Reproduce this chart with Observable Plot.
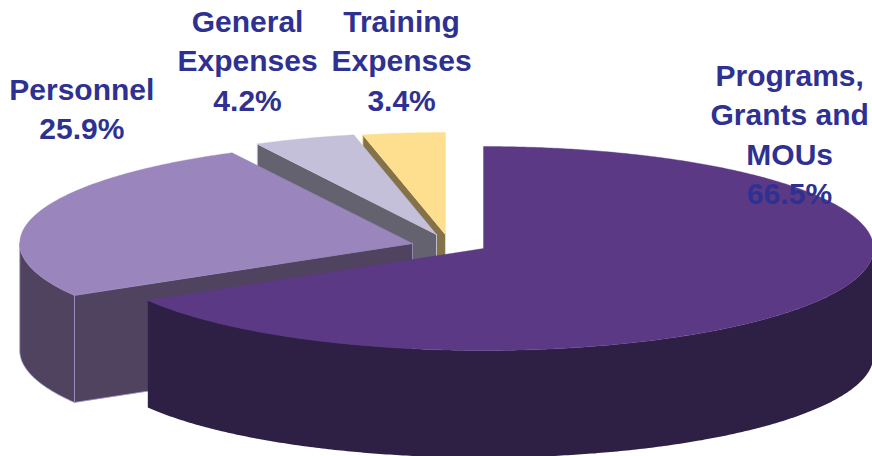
<!DOCTYPE html>
<html>
<head>
<meta charset="utf-8">
<script src="https://cdn.jsdelivr.net/npm/d3@7"></script>
<script src="https://cdn.jsdelivr.net/npm/@observablehq/plot@0.6"></script>
<style>
html,body{margin:0;padding:0;background:#fff;overflow:hidden}
svg{display:block}
</style>
</head>
<body>
<div id="chart"></div>
<script>
// Data, in the pie's clockwise order starting from 12 o'clock
const categories = ["Programs,\nGrants and\nMOUs", "Personnel", "General\nExpenses", "Training\nExpenses"];
const shares = [66.5, 25.9, 4.2, 3.4];

// Look of each slice
const topColors  = ["#5b3985", "#9a85bd", "#c5c0da", "#fedf8f"];
const sideColors = ["#2e1f45", "#4f4360", "#64626f", "#84734a"];
const edgeColors = ["none", "#a593c8", "#d5d1e6", "#fedf8f"];

// Explosion of each slice, in pie-radius units
const explodeX = [0, -0.182, -0.1205, -0.0975];
const explodeY = [0, 0.05, 0.137, 0.137];
const radius   = [1, 1.007, 1, 1];
const depth = 1.05;

// Label anchors, in pie-radius units
const labelX = [0.785, -1.03, -0.605, -0.21];
const labelY = [1.14, 1.39, 1.86, 1.86];

const textColor = "#2e3192";
const rad = d => d * Math.PI / 180;
const total = d3.sum(shares);
const stops = d3.cumsum(shares).map(v => v / total * 360);

const slices = shares.map((v, i) => ({
  i,
  t0: i ? stops[i - 1] : 0,
  t1: stops[i],
  ox: explodeX[i], oy: explodeY[i], r: radius[i]
}));

const rim = (s, t) => ({x: s.ox + s.r * Math.sin(rad(t)), y: s.oy + Math.cos(rad(t))});
const sweep = (a, b) => {
  const n = Math.max(2, Math.ceil((b - a) / 0.5));
  return d3.range(n + 1).map(k => a + (b - a) * k / n);
};
const drop = p => ({x: p.x, y: p.y - depth});

function cutFace(s) {
  const tip = {x: s.ox, y: s.oy}, out = rim(s, s.t0);
  return [tip, out, drop(out), drop(tip), tip];
}
function wallFace(s) {
  const a = Math.max(s.t0, 90), b = Math.min(s.t1, 270);
  if (b <= a) return null;
  const upper = sweep(a, b).map(t => rim(s, t));
  return [...upper, ...upper.slice().reverse().map(drop), upper[0]];
}
function topFace(s) {
  const tip = {x: s.ox, y: s.oy};
  return [tip, ...sweep(s.t0, s.t1).map(t => rim(s, t)), tip];
}

// Painter's order: the back slices first, the front slice last
const order = [3, 2, 1, 0];
const marks = [];
for (const i of order) {
  const s = slices[i];
  const style = {x: "x", y: "y", fill: sideColors[i], stroke: edgeColors[i], strokeWidth: 0.8, curve: "linear"};
  marks.push(Plot.line(cutFace(s), style));
  const wall = wallFace(s);
  if (wall) marks.push(Plot.line(wall, style));
  marks.push(Plot.line(topFace(s), {x: "x", y: "y", fill: topColors[i], stroke: topColors[i], strokeWidth: 0.4, curve: "linear"}));
}

const labels = categories.map((c, i) => ({
  text: `${c}\n${shares[i].toFixed(1)}%`, x: labelX[i], y: labelY[i]
}));
marks.push(Plot.text(labels, {
  x: "x", y: "y", text: "text",
  fontFamily: "'Liberation Sans', Arial, sans-serif",
  fontWeight: "bold", fontSize: 30, lineHeight: 1.32,
  fill: textColor, textAnchor: "middle"
}));

const chart = Plot.plot({
  width: 872, height: 456,
  margin: 0,
  style: {background: "#fff"},
  x: {domain: [-1, 1], range: [93, 873], axis: null},
  y: {domain: [-1, 1], range: [350, 146], axis: null},
  marks
});
document.getElementById("chart").append(chart);
</script>
</body>
</html>
